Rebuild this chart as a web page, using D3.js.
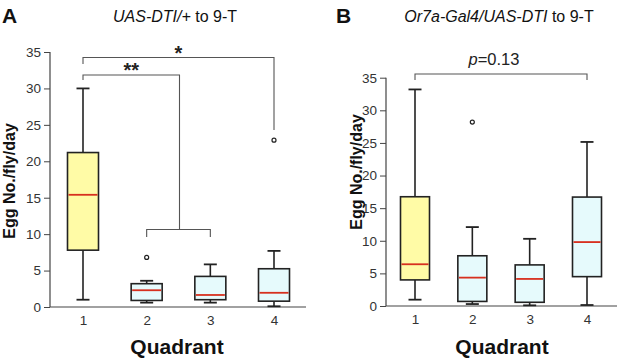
<!DOCTYPE html>
<html><head><meta charset="utf-8">
<script src="https://cdn.jsdelivr.net/npm/d3@7"></script>
<style>body{margin:0;background:#fff}svg{display:block}text{font-family:"Liberation Sans",Arial,sans-serif}</style>
</head><body>
<svg id="c" width="617" height="359"></svg>
<script>
const categories = ["1","2","3","4"];
const yTicks = [0,5,10,15,20,25,30,35];
// panel A: [whiskerLow, q1, median, q3, whiskerHigh]
const statsA = [
  [1.0, 7.8, 15.4, 21.2, 30.0],
  [0.6, 0.9, 2.3, 3.2, 3.6],
  [0.6, 1.0, 1.65, 4.2, 5.85],
  [0.1, 0.8, 1.95, 5.25, 7.7]
];
const outliersA = [[], [6.8], [], [22.9]];
const statsB = [
  [0.97, 4.0, 6.4, 16.75, 33.2],
  [0.3, 0.7, 4.35, 7.7, 12.1],
  [0.1, 0.57, 4.15, 6.3, 10.3],
  [0.15, 4.5, 9.8, 16.7, 25.15]
];
const outliersB = [[], [28.2], [], []];
const fills = ["#fffba6", "#e6fafc", "#e6fafc", "#e6fafc"];

const svg = d3.select("#c");

function panel(cfg) {
  const g = svg.append("g");
  const x = d3.scalePoint().domain(categories).range([cfg.x0, cfg.x3]);
  const y = d3.scaleLinear().domain([0, 35]).range([cfg.yb, cfg.yt]);
  const ya = g.append("g").attr("transform", `translate(${cfg.ax},0)`)
    .call(d3.axisLeft(y).tickValues(yTicks).tickSize(6).tickPadding(3));
  ya.select(".domain").attr("stroke", "#444").attr("stroke-width", 1.2).attr("d", `M-0,${cfg.yt}V${cfg.yb}`);
  ya.selectAll(".tick line").attr("stroke", "#444");
  ya.selectAll(".tick text").attr("fill", "#333").style("font-size", "13.5px");
  const xa = g.append("g").attr("transform", `translate(0,${cfg.yb})`)
    .call(d3.axisBottom(x).tickSize(0).tickPadding(8));
  xa.select(".domain").attr("stroke", "#444").attr("stroke-width", 1.2).attr("d", `M${cfg.ax},0H${cfg.axEnd}`);
  xa.selectAll(".tick text").attr("fill", "#333").style("font-size", "13.5px");

  const bw = cfg.bw, cw = cfg.cw;
  cfg.stats.forEach((s, i) => {
    const cx = x(categories[i]);
    const b = g.append("g");
    b.append("line").attr("x1", cx).attr("x2", cx).attr("y1", y(s[0])).attr("y2", y(s[1])).attr("stroke", "#222").attr("stroke-width", 1.6);
    b.append("line").attr("x1", cx).attr("x2", cx).attr("y1", y(s[3])).attr("y2", y(s[4])).attr("stroke", "#222").attr("stroke-width", 1.6);
    b.append("line").attr("x1", cx - cw).attr("x2", cx + cw).attr("y1", y(s[0])).attr("y2", y(s[0])).attr("stroke", "#222").attr("stroke-width", 1.8);
    b.append("line").attr("x1", cx - cw).attr("x2", cx + cw).attr("y1", y(s[4])).attr("y2", y(s[4])).attr("stroke", "#222").attr("stroke-width", 1.8);
    b.append("rect").attr("x", cx - bw / 2).attr("width", bw).attr("y", y(s[3])).attr("height", y(s[1]) - y(s[3]))
      .attr("fill", fills[i]).attr("stroke", "#222").attr("stroke-width", 1.6);
    b.append("line").attr("x1", cx - bw / 2 + 1).attr("x2", cx + bw / 2 - 1).attr("y1", y(s[2])).attr("y2", y(s[2])).attr("stroke", "#d7301f").attr("stroke-width", 1.8);
    cfg.out[i].forEach(o => {
      b.append("circle").attr("cx", cx).attr("cy", y(o)).attr("r", 2).attr("fill", "#fff").attr("stroke", "#222").attr("stroke-width", 1.2);
    });
  });
  g.append("text").attr("x", cfg.qx).attr("y", 354).attr("text-anchor", "middle")
    .style("font-size", "21px").style("font-weight", "bold").attr("fill", "#111").text("Quadrant");
  g.append("text").attr("transform", `translate(${cfg.ylx},${cfg.yly}) rotate(-90)`).attr("text-anchor", "middle")
    .style("font-size", "16px").style("font-weight", "bold").attr("fill", "#111").text("Egg No./fly/day");
  g.append("text").attr("x", cfg.lx).attr("y", 23).style("font-size", "21px").style("font-weight", "bold").attr("fill", "#111").text(cfg.letter);
  const t = g.append("text").attr("x", cfg.tx).attr("y", 22).attr("text-anchor", "middle").style("font-size", "16px").attr("fill", "#111");
  t.append("tspan").style("font-style", "italic").text(cfg.titleIt);
  t.append("tspan").text(cfg.titleRest);
  return {g, x, y};
}

function bracket(g, x1, x2, yy, l1, l2) {
  g.append("path").attr("d", `M${x1},${l1}V${yy}H${x2}V${l2}`).attr("fill", "none").attr("stroke", "#555").attr("stroke-width", 1.1);
}

const A = panel({x0: 83, x3: 274, ax: 50, axEnd: 306, yb: 307, yt: 52, bw: 31, cw: 6.5,
  stats: statsA, out: outliersA, qx: 177, ylx: 15, yly: 181, lx: 2, letter: "A",
  tx: 175, titleIt: "UAS-DTI/+", titleRest: " to 9-T"});
{
  const {g, x} = A;
  const c1 = x("1"), c2 = x("2"), c3 = x("3"), c4 = x("4");
  const mid = (c2 + c3) / 2 + 1;
  bracket(g, c2, c3, 229.5, 237, 237);
  bracket(g, c1, mid, 75, 80, 229.5);
  bracket(g, c1, c4, 57.5, 64, 130);
  g.append("text").attr("x", (c1 + mid) / 2).attr("y", 77).attr("text-anchor", "middle").style("font-size", "20px").style("font-weight", "bold").attr("fill", "#222").text("**");
  g.append("text").attr("x", (c1 + c4) / 2).attr("y", 60).attr("text-anchor", "middle").style("font-size", "20px").style("font-weight", "bold").attr("fill", "#222").text("*");
}

const B = panel({x0: 415, x3: 587, ax: 386, axEnd: 617, yb: 306, yt: 77.7, bw: 29, cw: 6.5,
  stats: statsB, out: outliersB, qx: 502, ylx: 362, yly: 172, lx: 336, letter: "B",
  tx: 499, titleIt: "Or7a-Gal4/UAS-DTI", titleRest: " to 9-T"});
{
  const {g, x} = B;
  bracket(g, x("1"), x("4"), 74, 80, 80);
  const t = g.append("text").attr("x", 494).attr("y", 65).attr("text-anchor", "middle").style("font-size", "16.5px").attr("fill", "#222");
  t.append("tspan").style("font-style", "italic").text("p");
  t.append("tspan").text("=0.13");
}
</script>
</body></html>
